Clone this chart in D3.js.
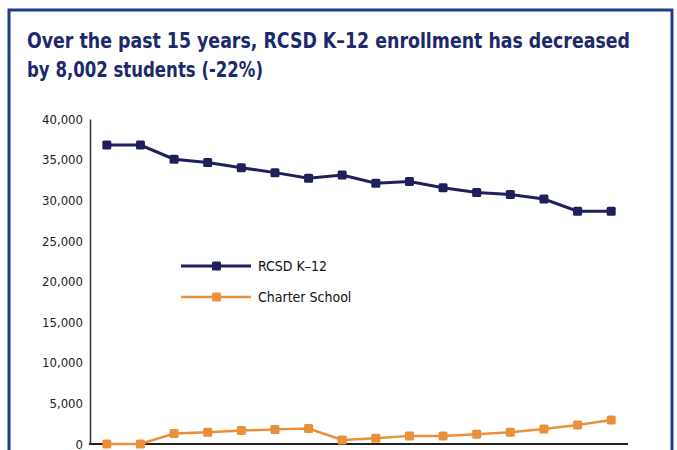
<!DOCTYPE html>
<html>
<head>
<meta charset="utf-8">
<script src="https://cdn.jsdelivr.net/npm/d3@7"></script>
<style>
  body { margin: 0; background: #fff; }
  svg text { font-family: "Liberation Sans Narrow", "DejaVu Sans Condensed", sans-serif; }
</style>
</head>
<body>
<script>
// year index along the x axis (the chart has no x labels)
var categories = ["1","2","3","4","5","6","7","8","9","10","11","12","13","14","15","16"];
var rcsdValues = [36800, 36800, 35050, 34650, 34000, 33400, 32700, 33100, 32100, 32300, 31550, 30950, 30700, 30150, 28650, 28650];
var charterValues = [0, 0, 1300, 1450, 1650, 1800, 1900, 500, 700, 1000, 1000, 1200, 1450, 1850, 2350, 2950];
var yTicks = [0, 5000, 10000, 15000, 20000, 25000, 30000, 35000, 40000];
var seriesNames = ["RCSD K\u201312", "Charter School"];
var titleLines = ["Over the past 15 years, RCSD K\u201312 enrollment has decreased", "by 8,002 students (-22%)"];

var width = 677, height = 450;
var navy = "#1f1f5c", orange = "#e8913a", titleColor = "#1c2a6b", frameColor = "#1e3c8c";

var svg = d3.select("body").append("svg")
  .attr("width", width)
  .attr("height", height);

// frame round the chart
svg.append("rect")
  .attr("x", 9).attr("y", 10)
  .attr("width", 663).attr("height", 460)
  .attr("fill", "none")
  .attr("stroke", frameColor)
  .attr("stroke-width", 3);

// title
svg.selectAll("text.title")
  .data(titleLines)
  .enter().append("text")
  .attr("class", "title")
  .attr("x", 27)
  .attr("y", (d, i) => 48 + i * 29)
  .attr("fill", titleColor)
  .attr("font-size", 21)
  .attr("font-weight", "bold")
  .attr("textLength", (d, i) => i === 0 ? 603 : 236)
  .attr("lengthAdjust", "spacingAndGlyphs")
  .text(d => d);

var xScale = d3.scalePoint()
  .domain(categories)
  .range([90, 628])
  .padding(0.5);

var yScale = d3.scaleLinear()
  .domain([0, 40000])
  .range([444, 119]);

// y axis
var yAxis = d3.axisLeft(yScale)
  .tickValues(yTicks)
  .tickSize(0)
  .tickPadding(7)
  .tickFormat(d3.format(","));

var gy = svg.append("g")
  .attr("transform", "translate(90,0)")
  .call(yAxis);
gy.select(".domain").attr("stroke", "#333").attr("stroke-width", 1.5);
gy.selectAll("text")
  .attr("font-size", 13)
  .attr("fill", "#222")
  .attr("font-family", "'Liberation Sans Narrow', 'DejaVu Sans Condensed', sans-serif");

// x axis line
svg.append("line")
  .attr("x1", 89).attr("x2", 628)
  .attr("y1", yScale(0)).attr("y2", yScale(0))
  .attr("stroke", "#222")
  .attr("stroke-width", 2);

var line = d3.line()
  .x((d, i) => xScale(categories[i]))
  .y(d => yScale(d));

function drawSeries(values, color, lw, size) {
  svg.append("path")
    .attr("d", line(values))
    .attr("fill", "none")
    .attr("stroke", color)
    .attr("stroke-width", lw);
  svg.append("g").selectAll("rect")
    .data(values)
    .enter().append("rect")
    .attr("x", (d, i) => xScale(categories[i]) - size / 2)
    .attr("y", d => yScale(d) - size / 2)
    .attr("width", size)
    .attr("height", size)
    .attr("rx", 1.5)
    .attr("fill", color);
}

drawSeries(charterValues, orange, 2.5, 9);
drawSeries(rcsdValues, navy, 3, 9);

// legend
var legend = [
  { name: seriesNames[0], color: navy, lw: 3, y: 266 },
  { name: seriesNames[1], color: orange, lw: 2.5, y: 297 }
];
var lg = svg.append("g").selectAll("g")
  .data(legend)
  .enter().append("g");
lg.append("line")
  .attr("x1", 181).attr("x2", 251)
  .attr("y1", d => d.y).attr("y2", d => d.y)
  .attr("stroke", d => d.color)
  .attr("stroke-width", d => d.lw);
lg.append("rect")
  .attr("x", 212).attr("y", d => d.y - 4.5)
  .attr("width", 9).attr("height", 9)
  .attr("rx", 1.5)
  .attr("fill", d => d.color);
lg.append("text")
  .attr("x", 258)
  .attr("y", d => d.y + 5)
  .attr("font-size", 14)
  .attr("fill", "#111")
  .text(d => d.name);
</script>
</body>
</html>
